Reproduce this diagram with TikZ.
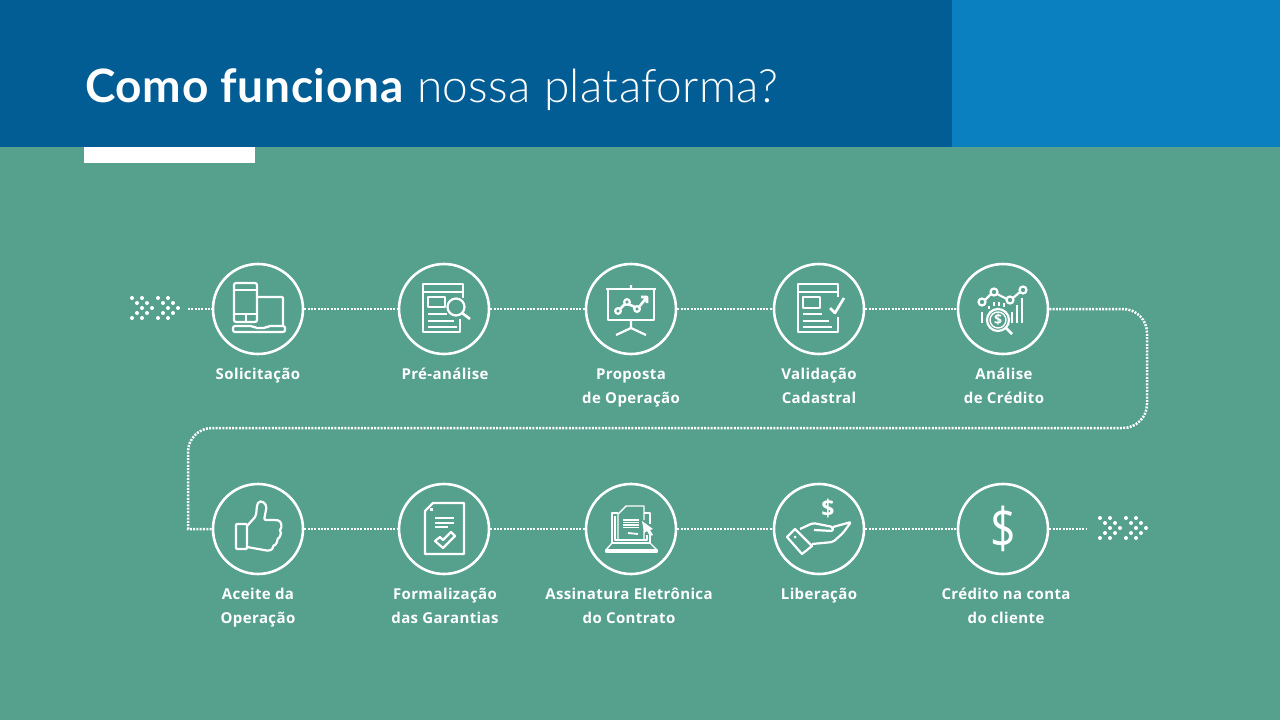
\documentclass[tikz,border=0pt]{standalone}
\usepackage{fontspec}
\setmainfont{Open Sans}
\newfontfamily\titlefont[LetterSpace=1.5]{Lato}
\newfontfamily\lightfont[LetterSpace=0.9]{Lato Light}
\newfontfamily\labelfont[LetterSpace=2.6]{Open Sans}
\usetikzlibrary{positioning}
\definecolor{mgreen}{HTML}{56A08E}
\definecolor{mdark}{HTML}{025D94}
\definecolor{mblue}{HTML}{0A80C0}
\newcommand{\lrule}{\rule{0pt}{16pt}}
\tikzset{stepnode/.style = {draw = white, circle, line width = 2.6, minimum size = 90, inner sep = 0}}
\tikzset{steplabel/.style = {text = white, font = \labelfont\bfseries\fontsize{15}{24}\selectfont, align = center, anchor = north, inner sep = 0}}
\tikzset{dotline/.style = {white, line width = 2.5, dash pattern = on 2 off 1.3}}
\tikzset{icon/.style = {white, line width = 2.2, line join = round}}
\tikzset{thinicon/.style = {white, line width = 1.4, line join = round}}
\newcommand{\chevrons}[1]{%
  \foreach \dx in {0, 26}
    \foreach \px/\py in {0/0, 10/0, 5/5, 15/5, 10/10, 20/10, 5/15, 15/15, 0/20, 10/20}
      \fill [white, shift = {(#1)}] (\dx + \px, \py - 10) circle (2);}
\begin{document}
\begin{tikzpicture}[x = 1pt, y = -1pt]
    \useasboundingbox (0, 0) rectangle (1280, 720);
    \fill [mgreen] (0, 0) rectangle (1280, 720);
    \fill [mdark] (0, 0) rectangle (952, 147);
    \fill [mblue] (952, 0) rectangle (1280, 147);
    \fill [white] (84, 147) rectangle (255, 163);

    \node [anchor = base west, inner sep = 0, text = white, font = \fontsize{46}{46}\selectfont] (title) at (85, 102) {{\titlefont\bfseries Como funciona} {\lightfont\hspace{2pt}nossa plataforma?}};

    % first row
    \node [stepnode] (sol) at (258, 309) {};
    \node [stepnode] (pre) at (444, 309) {};
    \node [stepnode] (pro) at (631, 309) {};
    \node [stepnode] (val) at (819, 309) {};
    \node [stepnode] (ana) at (1003, 309) {};

    % second row
    \node [stepnode] (ace) at (258, 529) {};
    \node [stepnode] (form) at (444, 529) {};
    \node [stepnode] (ass) at (631, 529) {};
    \node [stepnode] (lib) at (819, 529) {};
    \node [stepnode] (cre) at (1003, 529) {};

    \node [steplabel] (lsol) at (258, 363) {\lrule Solicitação};
    \node [steplabel] (lpre) at (445, 363) {\lrule Pré-análise};
    \node [steplabel] (lpro) at (631, 363) {\lrule Proposta\\de Operação};
    \node [steplabel] (lval) at (819, 363) {\lrule Validação\\Cadastral};
    \node [steplabel] (lana) at (1004, 363) {\lrule Análise\\de Crédito};
    \node [steplabel] (lace) at (258, 583) {\lrule Aceite da\\Operação};
    \node [steplabel] (lform) at (445, 583) {\lrule Formalização\\das Garantias};
    \node [steplabel] (lass) at (629, 583) {\lrule Assinatura Eletrônica\\do Contrato};
    \node [steplabel] (llib) at (819, 583) {\lrule Liberação};
    \node [steplabel] (lcre) at (1006, 583) {\lrule Crédito na conta\\do cliente};

    \coordinate (start) at (188, 309);
    \coordinate (stop) at (1086, 529);
    \draw [dotline] (start) -- (sol);
    \draw [dotline] (sol) -- (pre);
    \draw [dotline] (pre) -- (pro);
    \draw [dotline] (pro) -- (val);
    \draw [dotline] (val) -- (ana);
    \draw [dotline, rounded corners = 24] (ana) -- (1147, 309) -- (1147, 428) -- (188, 428) -- (188, 500) [sharp corners] -- (188, 529) -- (ace);
    \draw [dotline] (ace) -- (form);
    \draw [dotline] (form) -- (ass);
    \draw [dotline] (ass) -- (lib);
    \draw [dotline] (lib) -- (cre);
    \draw [dotline] (cre) -- (stop);

    \chevrons{132, 308}
    \chevrons{1100, 528}

    % icons
    \begin{scope}[icon, shift = {(sol)}]
      \draw [rounded corners = 2] (-24, 13) -- (-24, -26) -- (-1, -26) -- (-1, 13) -- cycle;
      \draw (-24, -19) -- (-1, -19) (-24, 5) -- (-1, 5) (-12, 5) -- (-12, 13);
      \draw [rounded corners = 1] (0, -12) -- (25, -12) -- (25, 17);
      \draw [rounded corners = 2] (-25, 17) -- (-5, 17) -- (-3, 19) -- (8, 19) -- (10, 17) -- (27, 17) -- (27, 23) -- (-25, 23) -- cycle;
    \end{scope}
    \begin{scope}[icon, shift = {(pre)}]
      \draw (19, -11) -- (19, -25) -- (-21, -25) -- (-21, 23) -- (16, 23) -- (16, 10);
      \draw (-21, -17) -- (19, -17);
      \draw (-16, -12) rectangle (1, -2);
      \draw (-16, 5) -- (3, 5) (-16, 12) -- (10, 12) (-16, 18) -- (13, 18);
      \draw (12, -2) circle (8.5);
      \draw [line width = 2.6] (18, 4) -- (26, 10);
    \end{scope}
    \begin{scope}[icon, shift = {(pro)}]
      \draw (-25, -20) -- (25, -20);
      \draw (-23, -20) -- (-23, 11) -- (23, 11) -- (23, -20);
      \draw (0, -24) -- (0, -20) (0, 11) -- (0, 19) (-15, 26) -- (0, 19) -- (15, 26);
      \draw (-13, 2) circle (2.8) (-4, -7) circle (2.8) (6, 0) circle (2.8);
      \draw [line width = 2.6] (-11, 0) -- (-6, -5) (-3, -5) -- (4, -2) (8, -2) -- (16, -12) (10, -12) -- (16, -12) -- (16, -6);
    \end{scope}
    \begin{scope}[icon, shift = {(val)}]
      \draw (19, -12) -- (19, -25) -- (-21, -25) -- (-21, 23) -- (19, 23) -- (19, 8);
      \draw (-21, -17) -- (19, -17);
      \draw (-16, -12) rectangle (1, -1);
      \draw (-16, 5) -- (3, 5) (-16, 12) -- (10, 12) (-16, 18) -- (13, 18);
      \draw [line width = 2.6] (11, -1) -- (16, 4) -- (25, -11);
    \end{scope}
    \begin{scope}[icon, shift = {(ana)}]
      \draw (-21, -7) circle (3.5) (-9, -17) circle (3.5) (7, -9) circle (3.5) (20, -19) circle (3.5);
      \draw (-18, -9) -- (-12, -15) (-6, -15) -- (4, -10) (10, -11) -- (17, -17);
      \draw (-21, 3) -- (-21, 14);
      \draw (-5, 11) circle (11);
      \draw [line width = 1.4] (-5, 11) circle (8);
      \node [white, inner sep = 0, font = \bfseries\fontsize{14}{14}\selectfont] (dollar) at (-5, 11) {\$};
      \draw [line width = 2.6] (3, 19) -- (9, 25);
      \draw (9, 14) -- (9, 3) (14, 14) -- (14, -4) (19, 14) -- (19, -11);
      \draw (-14, -3) -- (-14, 0) (-9, -7) -- (-9, -3) (-4, -7) -- (-4, -3) (1, -6) -- (1, -2);
    \end{scope}
    \begin{scope}[icon, shift = {(ace)}]
      \draw [rounded corners = 1] (-22, -5) rectangle (-11, 20);
      \draw [rounded corners = 2] (-11, -3) -- (-2, -13) -- (-1, -24) .. controls (2, -30) and (9, -26) .. (8, -19) -- (6, -9) -- (18, -9) .. controls (24, -8) and (24, -1) .. (21, 1) .. controls (24, 4) and (21, 9) .. (19, 9) .. controls (20, 13) and (17, 16) .. (15, 16) .. controls (15, 21) and (11, 22) .. (6, 21) -- (-11, 18);
    \end{scope}
    \begin{scope}[icon, shift = {(form)}]
      \draw (-11, -26) -- (20, -26) -- (20, 25) -- (-19, 25) -- (-19, -18) -- cycle;
      \fill [white] (-14, -21) rectangle (-11, -18);
      \draw (-9, -11) -- (10, -11) (-9, -6) -- (10, -6) (-9, -2) -- (4, -2);
      \draw (-9, 12) -- (-4, 8) -- (-1, 11) -- (7, 3) -- (11, 7) -- (-1, 19) -- cycle;
    \end{scope}
    \begin{scope}[thinicon, shift = {(ass)}]
      \draw (-13, 10) -- (-13, -15) -- (-5, -23) -- (13, -23) -- (13, -9) (13, 2) -- (13, 10) -- cycle;
      \draw (-13, -16) -- (-19, -16) -- (-19, 14) -- (19, 14) -- (19, 6) (13, -16) -- (19, -16) -- (19, -5);
      \draw (-16, -13) -- (-16, 11) -- (16, 11) -- (16, 6);
      \draw (-25, 21) -- (-19, 14) (26, 21) -- (19, 14);
      \draw (-25, 21) rectangle (26, 23);
      \draw [line width = 1.5] (-8, -9) -- (8, -9) (-8, -6.5) -- (8, -6.5) (-8, -4) -- (8, -4) (-8, -1.5) -- (8, -1.5);
      \draw [line width = 1.8] (-3, 4) -- (7, 5);
      \fill [white] (11, -8) -- (22, 0) -- (19, 1) -- (22, 6) -- (19, 7) -- (16, 2) -- (13, 4) -- cycle;
    \end{scope}
    \begin{scope}[icon, shift = {(lib)}]
      \node [white, inner sep = 0, font = \bfseries\fontsize{23}{23}\selectfont] (cash) at (9, -21) {\$};
      \draw (-32, 8) -- (-24, 0) -- (-7, 17) -- (-17, 25) -- cycle;
      \fill [white] (-24, 8) circle (1.5);
      \draw [rounded corners = 2] (-19, 0) -- (-6, -6) -- (14, -2) -- (14, 2) -- (-5, 1) (14, -2) -- (32, -7) -- (24, 4) -- (14, 13) -- (-7, 15);
    \end{scope}
    \node [white, inner sep = 0, font = \fontsize{56}{56}\selectfont] (money) at (cre) {\scalebox{0.8}[1]{\$}};
  \end{tikzpicture}
\end{document}
